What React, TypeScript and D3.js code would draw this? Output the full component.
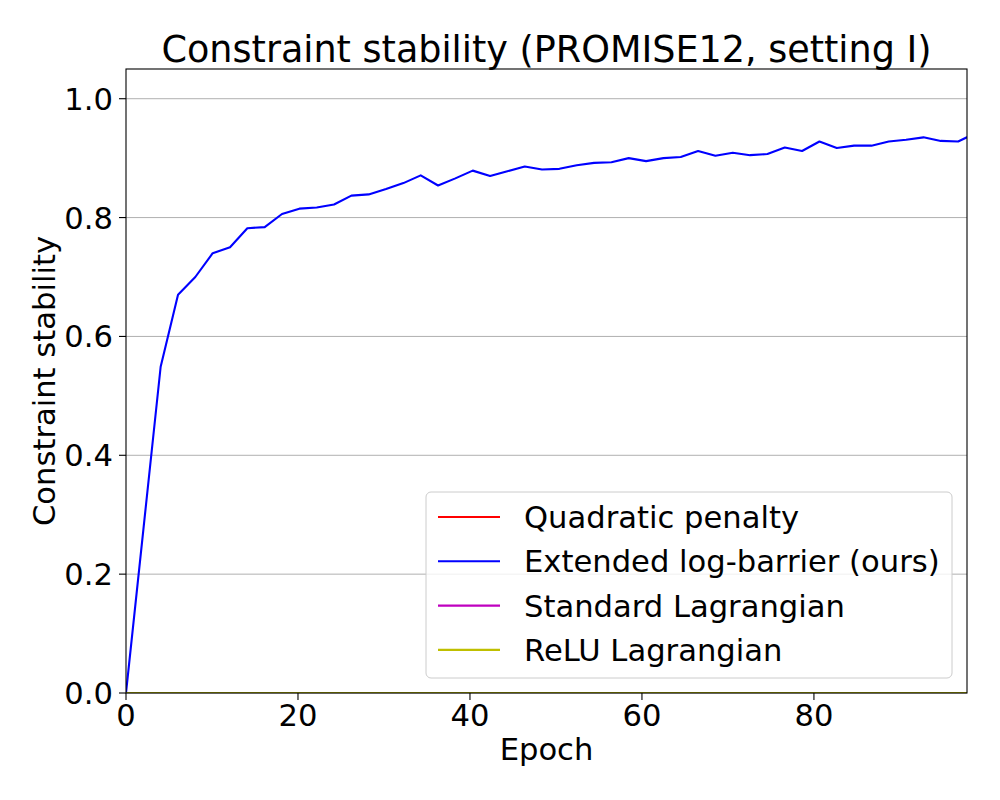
import React, { useEffect, useRef } from "react";
import * as d3 from "d3";

const epochs = [0, 2.02, 4.03, 6.05, 8.06, 10.08, 12.1, 14.11, 16.13, 18.14, 20.16, 22.18, 24.19, 26.21, 28.22, 30.24, 32.26, 34.27, 36.29, 38.3, 40.32, 42.34, 44.35, 46.37, 48.38, 50.4, 52.42, 54.43, 56.45, 58.46, 60.48, 62.5, 64.51, 66.53, 68.54, 70.56, 72.58, 74.59, 76.61, 78.62, 80.64, 82.66, 84.67, 86.69, 88.7, 90.72, 92.74, 94.75, 96.77, 98.78];

const extendedLogBarrier = [0, 0.275, 0.549, 0.67, 0.7, 0.74, 0.75, 0.782, 0.784, 0.806, 0.815, 0.817, 0.822, 0.837, 0.839, 0.848, 0.858, 0.871, 0.854, 0.866, 0.879, 0.87, 0.878, 0.886, 0.881, 0.882, 0.888, 0.892, 0.893, 0.9, 0.895, 0.9, 0.902, 0.912, 0.904, 0.909, 0.905, 0.907, 0.918, 0.912, 0.928, 0.917, 0.921, 0.921, 0.928, 0.931, 0.935, 0.929, 0.928, 0.942];
const quadraticPenalty = epochs.map(() => 0);
const standardLagrangian = epochs.map(() => 0);
const reluLagrangian = epochs.map(() => 0);

const seriesNames = ["Quadratic penalty", "Extended log-barrier (ours)", "Standard Lagrangian", "ReLU Lagrangian"];
const seriesColors = ["#ff0000", "#0000ff", "#bf00bf", "#bfbf00"];
const seriesValues = [quadraticPenalty, extendedLogBarrier, standardLagrangian, reluLagrangian];

const xTicks = [0, 20, 40, 60, 80];
const yTicks = [0, 0.2, 0.4, 0.6, 0.8, 1.0];

const W = 1000, H = 800;
const L = 126, R = 967, T = 69, B = 693;
const FONT = "DejaVu Sans, sans-serif";
const FS = 30.6;

export default function App() {
  const ref = useRef<SVGSVGElement>(null);
  useEffect(() => {
    const svg = d3.select(ref.current);
    svg.selectAll("*").remove();
    const x = d3.scaleLinear().domain([0, 97.8]).range([L, R]);
    const y = d3.scaleLinear().domain([0, 1.05]).range([B, T]);

    svg.append("rect").attr("width", W).attr("height", H).attr("fill", "#fff");

    // grid
    svg.append("g").selectAll("line").data(yTicks).join("line")
      .attr("x1", L).attr("x2", R)
      .attr("y1", d => y(d)).attr("y2", d => y(d))
      .attr("stroke", "#b0b0b0").attr("stroke-width", 1);

    svg.append("defs").append("clipPath").attr("id", "clip")
      .append("rect").attr("x", L).attr("y", T).attr("width", R - L).attr("height", B - T);

    const line = d3.line<number>().x((_, i) => x(epochs[i])).y(d => y(d));
    const lg = svg.append("g").attr("clip-path", "url(#clip)");
    seriesValues.forEach((vals, k) => {
      lg.append("path").attr("d", line(vals)!).attr("fill", "none")
        .attr("stroke", seriesColors[k]).attr("stroke-width", 2.1)
        .attr("stroke-linejoin", "round").attr("stroke-linecap", "square");
    });

    // frame
    svg.append("rect").attr("x", L).attr("y", T).attr("width", R - L).attr("height", B - T)
      .attr("fill", "none").attr("stroke", "#000").attr("stroke-width", 1.1);

    // x ticks
    const xa = svg.append("g");
    xTicks.forEach(t => {
      xa.append("line").attr("x1", x(t)).attr("x2", x(t)).attr("y1", B).attr("y2", B + 7).attr("stroke", "#000").attr("stroke-width", 1.1);
      xa.append("text").attr("x", x(t)).attr("y", B + 33).attr("text-anchor", "middle")
        .attr("font-family", FONT).attr("font-size", FS).text(String(t));
    });
    // y ticks
    const ya = svg.append("g");
    yTicks.forEach(t => {
      ya.append("line").attr("x1", L - 7).attr("x2", L).attr("y1", y(t)).attr("y2", y(t)).attr("stroke", "#000").attr("stroke-width", 1.1);
      ya.append("text").attr("x", L - 13).attr("y", y(t)).attr("dy", "0.36em").attr("text-anchor", "end")
        .attr("font-family", FONT).attr("font-size", FS).text(t.toFixed(1));
    });

    // title
    svg.append("text").attr("x", (L + R) / 2).attr("y", 62).attr("text-anchor", "middle")
      .attr("font-family", FONT).attr("font-size", 38)
      .attr("textLength", 770).attr("lengthAdjust", "spacingAndGlyphs")
      .text("Constraint stability (PROMISE12, setting I)");
    // x label
    svg.append("text").attr("x", (L + R) / 2).attr("y", 760).attr("text-anchor", "middle")
      .attr("font-family", FONT).attr("font-size", FS).text("Epoch");
    // y label
    svg.append("text").attr("transform", `translate(55, ${(T + B) / 2}) rotate(-90)`).attr("text-anchor", "middle")
      .attr("font-family", FONT).attr("font-size", FS).text("Constraint stability");

    // legend
    const lgx = 426, lgy = 492, lgw = 526, lgh = 186;
    const leg = svg.append("g");
    leg.append("rect").attr("x", lgx).attr("y", lgy).attr("width", lgw).attr("height", lgh)
      .attr("rx", 5).attr("fill", "#fff").attr("fill-opacity", 0.8).attr("stroke", "#cccccc").attr("stroke-width", 1);
    seriesNames.forEach((name, i) => {
      const cy = 517 + i * 44.3;
      leg.append("line").attr("x1", 438).attr("x2", 500).attr("y1", cy).attr("y2", cy)
        .attr("stroke", seriesColors[i]).attr("stroke-width", 2.1);
      leg.append("text").attr("x", 524).attr("y", cy).attr("dy", "0.36em")
        .attr("font-family", FONT).attr("font-size", FS).text(name);
    });
  }, []);
  return (
    <svg ref={ref} width={W} height={H} style={{ position: "absolute", left: 0, top: 0 }} />
  );
}
